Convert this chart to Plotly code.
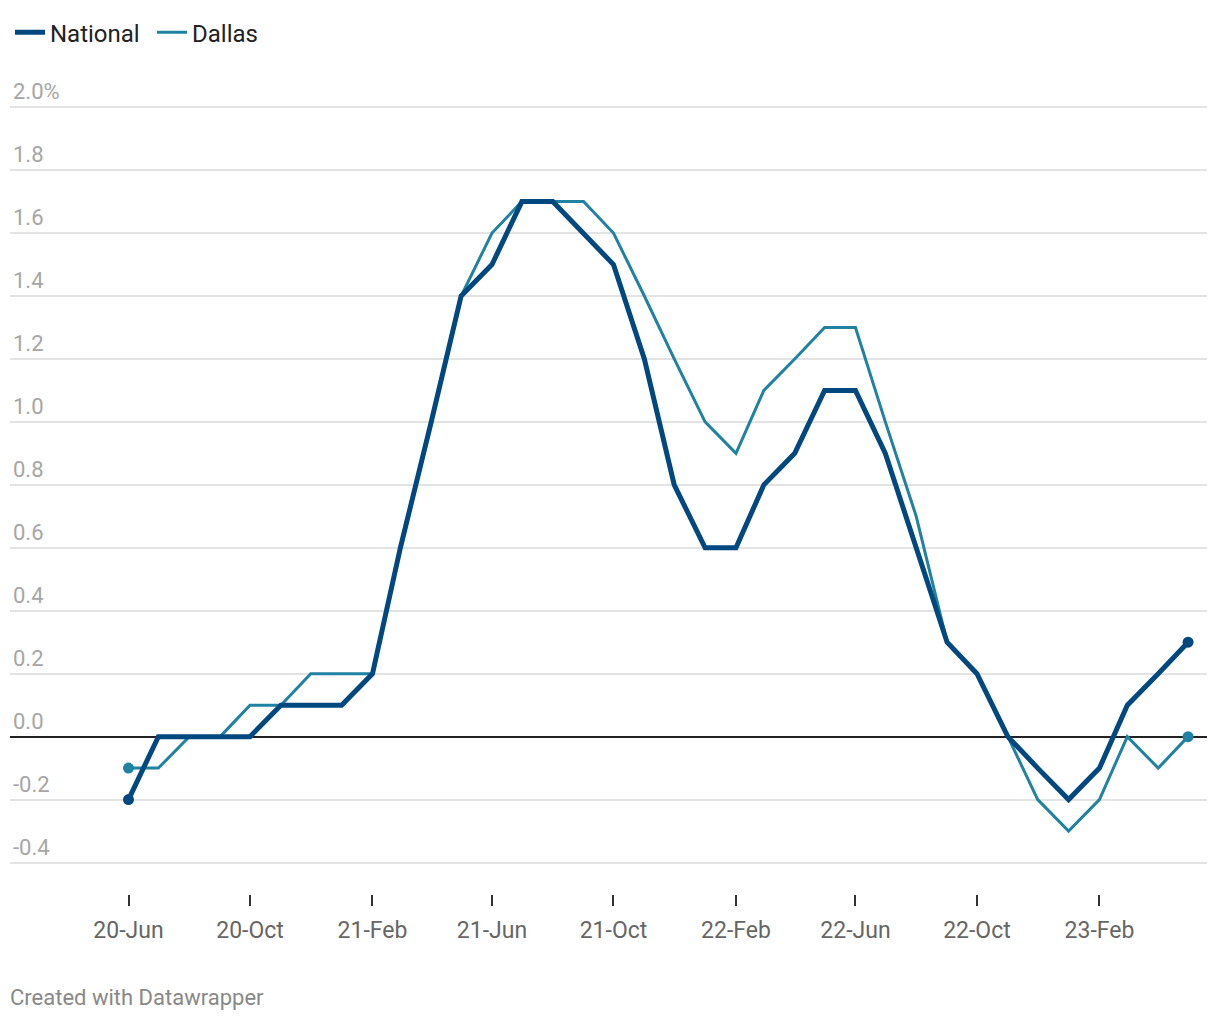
import pandas as pd
import plotly.graph_objects as go

# monthly change, Jun 2020 - May 2023
months = pd.date_range("2020-06-01", "2023-05-01", freq="MS")
national = [-0.2, 0.0, 0.0, 0.0, 0.0, 0.1, 0.1, 0.1, 0.2, 0.6, 1.0, 1.4,
            1.5, 1.7, 1.7, 1.6, 1.5, 1.2, 0.8, 0.6, 0.6, 0.8, 0.9, 1.1,
            1.1, 0.9, 0.6, 0.3, 0.2, 0.0, -0.1, -0.2, -0.1, 0.1, 0.2, 0.3]
dallas = [-0.1, -0.1, 0.0, 0.0, 0.1, 0.1, 0.2, 0.2, 0.2, 0.6, 1.0, 1.4,
          1.6, 1.7, 1.7, 1.7, 1.6, 1.4, 1.2, 1.0, 0.9, 1.1, 1.2, 1.3,
          1.3, 1.0, 0.7, 0.3, 0.2, 0.0, -0.2, -0.3, -0.2, 0.0, -0.1, 0.0]

y_ticks = [-0.4, -0.2, 0.0, 0.2, 0.4, 0.6, 0.8, 1.0, 1.2, 1.4, 1.6, 1.8, 2.0]
y_labels = ["-0.4", "-0.2", "0.0", "0.2", "0.4", "0.6", "0.8", "1.0",
            "1.2", "1.4", "1.6", "1.8", "2.0%"]

NAT = "#00487f"
DAL = "#1f82a3"

fig = go.Figure()

fig.add_trace(go.Scatter(x=months, y=dallas, name="Dallas", mode="lines",
                         line=dict(color=DAL, width=3), legendrank=2))
fig.add_trace(go.Scatter(x=[months[0], months[-1]], y=[dallas[0], dallas[-1]],
                         mode="markers", marker=dict(color=DAL, size=11),
                         showlegend=False, hoverinfo="skip"))
fig.add_trace(go.Scatter(x=months, y=national, name="National", mode="lines",
                         line=dict(color=NAT, width=5), legendrank=1))
fig.add_trace(go.Scatter(x=[months[0], months[-1]], y=[national[0], national[-1]],
                         mode="markers", marker=dict(color=NAT, size=11),
                         showlegend=False, hoverinfo="skip"))

fig.update_layout(
    width=1220, height=1020,
    margin=dict(l=10, r=13, t=104, b=126, autoexpand=False),
    paper_bgcolor="white", plot_bgcolor="white",
    font=dict(family="Roboto", size=20, color="#222"),
    legend=dict(orientation="h", x=0, y=0.99, yref="container", xanchor="left",
                yanchor="top", font=dict(size=24, color="#222"),
                itemwidth=30, entrywidth=97, entrywidthmode="pixels",
                bgcolor="rgba(0,0,0,0)"),
    showlegend=True,
)

fig.update_xaxes(
    type="date",
    range=["2020-02-03", "2023-05-20"],
    tick0="2020-06-01", dtick="M4", tickformat="%y-%b",
    ticks="outside", ticklen=11, tickwidth=2, tickcolor="#333",
    ticklabelstandoff=4,
    tickfont=dict(size=23, color="#666"),
    showgrid=False, showline=False, zeroline=False,
)

fig.update_yaxes(
    range=[-0.5, 2.01],
    tickvals=y_ticks, ticktext=y_labels,
    ticklabelposition="inside top", ticklabeloverflow="allow",
    tickfont=dict(size=22, color="#a6a6a6"),
    showgrid=True, gridcolor="#e3e3e3", gridwidth=1.5,
    zeroline=True, zerolinecolor="#222", zerolinewidth=1.5,
    showline=False, ticks="",
)

fig.add_annotation(text="Created with Datawrapper", xref="paper", yref="paper",
                   x=0, y=-0.131, xanchor="left", yanchor="middle", showarrow=False,
                   xshift=-2, font=dict(size=22, color="#888"))

# drop the browser's default 8px body margin so the chart sits at the page corner
fig.write_html("out.html", config={"displayModeBar": False},
               post_script="document.body.style.margin='0';")
